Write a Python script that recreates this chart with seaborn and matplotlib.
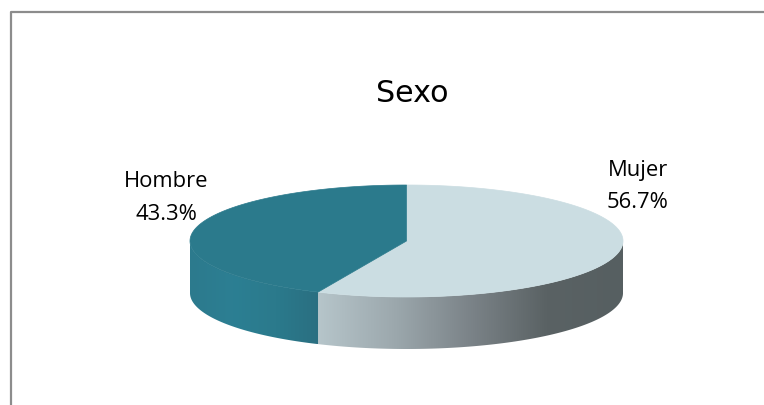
import numpy as np
import matplotlib
matplotlib.use("Agg")
import matplotlib.pyplot as plt
import seaborn as sns
from matplotlib.patches import Polygon
from matplotlib.colors import LinearSegmentedColormap

sns.set_theme(style="white")
plt.rcParams['font.family'] = ['Open Sans', 'DejaVu Sans']

# ---- data ----
categories = ["Mujer", "Hombre"]
percent = [56.7, 43.3]
title = "Sexo"
top_colors = ["#CBDDE2", "#2B7A8C"]
side_gradients = [["#B6C5CA", "#9CA8AD", "#7B8388", "#5A6264", "#565F61"],
                  ["#2D7A8D", "#2C7F93", "#2B7A8C", "#2A6F81"]]

W, H = 764, 405
fig = plt.figure(figsize=(W / 100, H / 100), dpi=100)
ax = fig.add_axes([0, 0, 1, 1])
ax.set_xlim(0, W)
ax.set_ylim(H, 0)
ax.axis("off")

# frame
ax.plot([11, 11, W], [H, 11.5, 11.5], color="#8C8C8C", lw=1.6, solid_capstyle="butt")

cx, cy, rx, ry, depth = 406.5, 241.0, 216.5, 56.0, 52.0

def ell(t, dy=0.0):
    return cx + rx * np.cos(t), cy - ry * np.sin(t) + dy

# angles: start at top (90 deg), go clockwise
total = sum(percent)
start = 90.0
ranges = []
for p in percent:
    sweep = p / total * 360.0
    ranges.append((start - sweep, start))
    start -= sweep

# side faces (visible front part: 180..360 deg)
for (a0, a1), grad in zip(ranges, side_gradients):
    segs = []
    for lo, hi in [(a0, a1), (a0 + 360, a1 + 360)]:
        s, e = max(lo, 180), min(hi, 360)
        if e > s:
            segs.append((s, e))
    for s, e in segs:
        t = np.radians(np.linspace(s, e, 200))
        xt, yt = ell(t)
        xb, yb = ell(t[::-1], depth)
        verts = np.column_stack([np.r_[xt, xb], np.r_[yt, yb]])
        poly = Polygon(verts, closed=True, facecolor="none", edgecolor="none")
        ax.add_patch(poly)
        cmap = LinearSegmentedColormap.from_list("g", grad)
        xmin, xmax = verts[:, 0].min(), verts[:, 0].max()
        ymin, ymax = verts[:, 1].min(), verts[:, 1].max()
        img = np.linspace(0, 1, 256)[None, :]
        if xt[0] > xt[-1]:
            img = img[:, ::-1]
        im = ax.imshow(img, cmap=cmap, extent=[xmin, xmax, ymax, ymin],
                       aspect="auto", interpolation="bilinear", zorder=2)
        im.set_clip_path(poly)

# top faces
for (a0, a1), col in zip(ranges, top_colors):
    t = np.radians(np.linspace(a0, a1, 300))
    xt, yt = ell(t)
    verts = np.column_stack([np.r_[cx, xt], np.r_[cy, yt]])
    ax.add_patch(Polygon(verts, closed=True, facecolor=col, edgecolor=col,
                         lw=0.5, zorder=3))

ax.text(412, 101.7, title, ha="center", va="baseline", fontsize=21.7,
        family="DejaVu Sans", color="#000000")

# label baselines (name line, percent line)
label_pos = [(638, 176, 208.3), (166, 186.7, 220)]
for (x, y1, y2), c, p in zip(label_pos, categories, percent):
    ax.text(x, y1, c, ha="center", va="baseline", fontsize=15.8, color="#000000")
    ax.text(x, y2, f"{p:.1f}%", ha="center", va="baseline", fontsize=15.8,
            color="#000000")

fig.savefig("out.png", dpi=100, facecolor="white")
